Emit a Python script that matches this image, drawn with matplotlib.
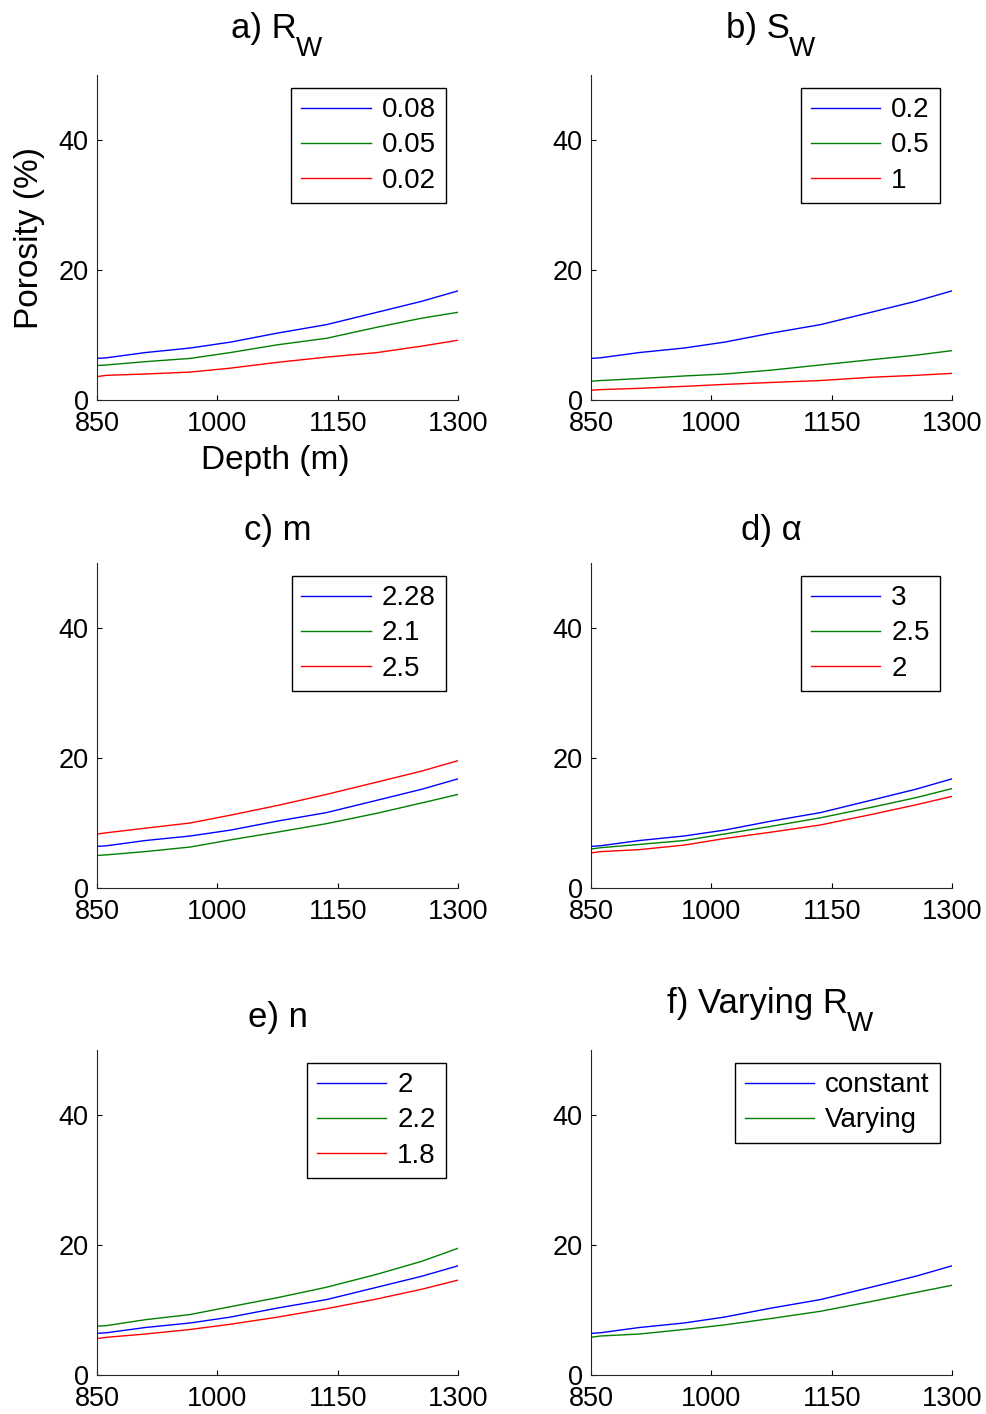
import numpy as np
import matplotlib
matplotlib.use("Agg")
from matplotlib import pyplot as plt

plt.rcParams['font.family'] = ['Liberation Sans', 'DejaVu Sans']

# depth samples (m)
depth = [850, 862, 910, 966, 1016, 1075, 1136, 1199, 1255, 1300]

# reference porosity curve (%) - shared by every panel
base = [6.4, 6.5, 7.3, 8.0, 8.9, 10.3, 11.6, 13.5, 15.2, 16.8]

# a) Rw
rw_005 = [5.3, 5.4, 5.9, 6.4, 7.3, 8.5, 9.5, 11.2, 12.6, 13.5]
rw_002 = [3.6, 3.8, 4.0, 4.3, 4.9, 5.8, 6.6, 7.3, 8.3, 9.2]
# b) Sw
sw_05 = [2.9, 3.0, 3.3, 3.7, 4.0, 4.6, 5.4, 6.2, 6.9, 7.6]
sw_1 = [1.5, 1.6, 1.8, 2.1, 2.4, 2.7, 3.0, 3.5, 3.8, 4.1]
# c) m
m_21 = [5.0, 5.1, 5.6, 6.3, 7.4, 8.6, 9.9, 11.5, 13.1, 14.4]
m_25 = [8.3, 8.5, 9.2, 10.0, 11.2, 12.7, 14.4, 16.3, 18.0, 19.6]
# d) alpha
a_25 = [6.0, 6.2, 6.7, 7.3, 8.3, 9.5, 10.8, 12.4, 13.9, 15.3]
a_2 = [5.4, 5.6, 5.9, 6.6, 7.6, 8.6, 9.7, 11.3, 12.8, 14.1]
# e) n
n_22 = [7.5, 7.6, 8.5, 9.3, 10.5, 11.9, 13.5, 15.5, 17.5, 19.5]
n_18 = [5.6, 5.8, 6.3, 7.0, 7.8, 8.9, 10.2, 11.7, 13.2, 14.6]
# f) varying Rw
rw_var = [5.8, 6.0, 6.3, 7.0, 7.7, 8.7, 9.8, 11.3, 12.7, 13.8]

colors = ['#0000ff', '#008000', '#ff0000']

# (title, subscript, series, legend labels)
panels = [
    ('a) R', 'W', [base, rw_005, rw_002], ['0.08', '0.05', '0.02']),
    ('b) S', 'W', [base, sw_05, sw_1], ['0.2', '0.5', '1']),
    ('c) m', None, [base, m_21, m_25], ['2.28', '2.1', '2.5']),
    ('d) α', None, [base, a_25, a_2], ['3', '2.5', '2']),
    ('e) n', None, [base, n_22, n_18], ['2', '2.2', '1.8']),
    ('f) Varying R', 'W', [base, rw_var], ['constant', 'Varying']),
]

fig = plt.figure(figsize=(9.87, 14.14), dpi=100)
lefts = [0.0983, 0.5988]
bottoms = [0.7171, 0.3720, 0.0276]
w, h = 0.3658, 0.2298

for k, (title, sub, series, labels) in enumerate(panels):
    r, c = divmod(k, 2)
    ax = fig.add_axes((lefts[c], bottoms[r], w, h))
    for s, lab, col in zip(series, labels, colors):
        ax.plot(depth, s, color=col, lw=1.0, label=lab)
    ax.set_xlim(850, 1300)
    ax.set_ylim(0, 50)
    ax.set_xticks([850, 1000, 1150, 1300])
    ax.set_yticks([0, 20, 40])
    ax.spines['top'].set_visible(False)
    ax.spines['right'].set_visible(False)
    for sp in ('left', 'bottom'):
        ax.spines[sp].set_linewidth(0.8)
        ax.spines[sp].set_color('#262626')
    ax.tick_params(direction='in', length=3.5, width=0.8, labelsize=19.5)
    ax.tick_params(axis='x', pad=8)
    ax.tick_params(axis='y', pad=6)

    # title, with a MATLAB-like large subscript
    if sub is None:
        ax.annotate(title, xy=(0.5, 1), xycoords='axes fraction',
                    xytext=(0, 23), textcoords='offset pixels',
                    ha='center', va='baseline', fontsize=25)
    else:
        t1 = ax.annotate(title, xy=(0.5, 1), xycoords='axes fraction',
                         xytext=(-14, 37), textcoords='offset pixels',
                         ha='center', va='baseline', fontsize=25)
        ax.annotate(sub, xy=(1, 1), xycoords=(t1, 'axes fraction'),
                    xytext=(-1, 19), textcoords='offset pixels',
                    ha='left', va='baseline', fontsize=20)

    leg = ax.legend(loc='upper right', fontsize=20, frameon=True, fancybox=False,
                    edgecolor='black', framealpha=1, handlelength=2.5,
                    borderaxespad=0.45, labelspacing=0.33, borderpad=0.35,
                    handletextpad=0.4)
    leg.get_frame().set_linewidth(1.0)

    if k == 0:
        ax.set_ylabel('Porosity (%)', fontsize=24)
        ax.yaxis.set_label_coords(-0.145, 0.5)
        ax.set_xlabel('Depth (m)', fontsize=24)
        ax.xaxis.set_label_coords(0.495, -0.137)

fig.savefig('out.png', dpi=100)
